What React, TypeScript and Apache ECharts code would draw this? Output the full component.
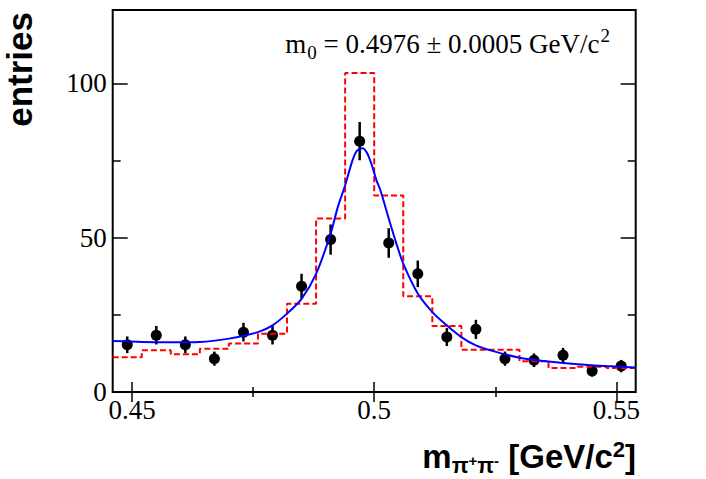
import React, { useEffect, useRef } from "react";
import * as echarts from "echarts";

// ---- data ----
const binCenters = [0.449, 0.455, 0.461, 0.467, 0.473, 0.479, 0.485, 0.491, 0.497, 0.503, 0.509, 0.515, 0.521, 0.527, 0.533, 0.539, 0.545, 0.551];
const dataCounts = [15.3, 18.4, 15.3, 10.8, 19.4, 18.4, 34.3, 49.4, 81.3, 48.3, 38.3, 17.8, 20.3, 10.8, 10.3, 11.9, 6.8, 8.4];
const dataErrors = [2.7, 3.0, 2.7, 2.3, 3.0, 3.0, 4.0, 4.9, 6.2, 4.8, 4.3, 2.9, 3.1, 2.3, 2.2, 2.4, 1.8, 2.0];
const mcCounts = [11.3, 13.5, 12.2, 14.0, 15.7, 18.9, 28.6, 56.2, 103.4, 63.7, 31.0, 21.4, 13.7, 13.7, 10.0, 7.8, 8.2, 7.8];
const binWidth = 0.006;
const fitX = [0.446, 0.452, 0.458, 0.464, 0.47, 0.476, 0.479, 0.482, 0.485, 0.488, 0.491, 0.4925, 0.494, 0.4955, 0.4965, 0.4976, 0.4985, 0.4994, 0.5005, 0.5013, 0.503, 0.5045, 0.506, 0.509, 0.512, 0.515, 0.518, 0.521, 0.524, 0.53, 0.536, 0.542, 0.548, 0.554];
const fitY = [16.5, 16.2, 16.1, 16.2, 17.3, 19.4, 21.6, 25.4, 30.2, 38.3, 51.3, 60.0, 67.0, 75.0, 78.3, 79.0, 77.5, 74.0, 68.5, 65.3, 56.2, 48.5, 41.6, 31.9, 25.9, 21.6, 17.8, 15.1, 13.5, 11.1, 9.9, 9.0, 8.4, 7.9];
const xTicks = [0.45, 0.5, 0.55];
const xMinorTicks = [0.475, 0.525];
const yTicks = [0, 50, 100];
const yMinorTicks = [25, 75];
const xRange = [0.446, 0.554];
const yRange = [0, 123.8];

const SERIF = "'Liberation Serif', 'Times New Roman', serif";
const SANS = "'Liberation Sans', Arial, Helvetica, sans-serif";

function tickAxis(kind: "x" | "y", position: string, values: number[], length: number, labels: boolean) {
  const range = kind === "x" ? xRange : yRange;
  return {
    type: "value",
    gridIndex: 0,
    position,
    min: range[0],
    max: range[1],
    axisLine: { show: false },
    splitLine: { show: false },
    axisTick: {
      show: true,
      inside: true,
      length,
      customValues: values,
      lineStyle: { color: "#000", width: 1.5 },
    },
    axisLabel: labels
      ? {
          show: true,
          customValues: values,
          margin: kind === "x" ? 4 : 6,
          fontFamily: SERIF,
          fontSize: 27,
          color: "#000",
        }
      : { show: false },
  };
}

export default function App() {
  const ref = useRef<HTMLDivElement>(null);

  useEffect(() => {
    if (!ref.current) return;
    const chart = echarts.init(ref.current, undefined, { renderer: "svg" });

    const histData: number[][] = binCenters.map((c, i) => [c - binWidth / 2, mcCounts[i]]);
    histData.push([binCenters[binCenters.length - 1] + binWidth / 2, mcCounts[mcCounts.length - 1]]);

    const option: any = {
      animation: false,
      backgroundColor: "#fff",
      grid: {
        show: true,
        left: 112.7,
        right: 70.3,
        top: 10,
        bottom: 87,
        borderColor: "#000",
        borderWidth: 2,
        backgroundColor: "transparent",
        containLabel: false,
        outerBoundsMode: "none",
      },
      xAxis: [
        tickAxis("x", "bottom", xTicks, 10, true),
        tickAxis("x", "bottom", xMinorTicks, 5, false),
        tickAxis("x", "top", xTicks, 10, false),
        tickAxis("x", "top", xMinorTicks, 5, false),
      ],
      yAxis: [
        tickAxis("y", "left", yTicks, 15, true),
        tickAxis("y", "left", yMinorTicks, 8, false),
        tickAxis("y", "right", yTicks, 15, false),
        tickAxis("y", "right", yMinorTicks, 8, false),
      ],
      series: [
        {
          name: "MC",
          type: "line",
          step: "end",
          xAxisIndex: 0,
          yAxisIndex: 0,
          data: histData,
          symbol: "none",
          lineStyle: { color: "#ff0000", width: 2, type: [6, 3] },
          silent: true,
        },
        {
          name: "fit",
          type: "line",
          xAxisIndex: 0,
          yAxisIndex: 0,
          data: fitX.map((x, i) => [x, fitY[i]]),
          smooth: 0.3,
          symbol: "none",
          lineStyle: { color: "#0000ff", width: 2 },
          silent: true,
        },
        {
          name: "errors",
          type: "custom",
          xAxisIndex: 0,
          yAxisIndex: 0,
          data: binCenters.map((x, i) => [x, dataCounts[i] - dataErrors[i], dataCounts[i] + dataErrors[i]]),
          encode: { x: 0, y: [1, 2] },
          renderItem: (_params: any, api: any) => {
            const x = api.value(0);
            const p1 = api.coord([x, api.value(1)]);
            const p2 = api.coord([x, api.value(2)]);
            return {
              type: "line",
              shape: { x1: p1[0], y1: p1[1], x2: p2[0], y2: p2[1] },
              style: { stroke: "#000", lineWidth: 2.5 },
            };
          },
          silent: true,
        },
        {
          name: "data",
          type: "scatter",
          xAxisIndex: 0,
          yAxisIndex: 0,
          data: binCenters.map((x, i) => [x, dataCounts[i]]),
          symbol: "circle",
          symbolSize: 11,
          itemStyle: { color: "#000", opacity: 1 },
          silent: true,
        },
      ],
      graphic: [
        {
          type: "text",
          x: 610,
          y: 44,
          style: {
            text: "{a|m}{s|0}{a| = 0.4976 ± 0.0005 GeV/c}{p|2}",
            align: "right",
            textAlign: "right",
            verticalAlign: "middle",
            textVerticalAlign: "middle",
            fill: "#000",
            rich: {
              a: { fontFamily: SERIF, fontSize: 27, color: "#000", fill: "#000" },
              s: { fontFamily: SERIF, fontSize: 19, color: "#000", fill: "#000", padding: [17, 0, 0, 1] },
              p: { fontFamily: SERIF, fontSize: 19, color: "#000", fill: "#000", padding: [0, 0, 17, 1] },
            },
          },
        },
        {
          type: "text",
          x: 636,
          y: 456,
          style: {
            text: "{b|m}{s|π}{ss|+}{s|π}{ss|-}{b|\u00a0[GeV/c}{p|2}{b|]}",
            align: "right",
            textAlign: "right",
            verticalAlign: "middle",
            textVerticalAlign: "middle",
            fill: "#000",
            rich: {
              b: { fontFamily: SANS, fontWeight: "bold", fontSize: 33, color: "#000", fill: "#000" },
              s: { fontFamily: SANS, fontWeight: "bold", fontSize: 22, color: "#000", fill: "#000", padding: [19, 0, 0, 0] },
              ss: { fontFamily: SANS, fontWeight: "bold", fontSize: 15, color: "#000", fill: "#000", padding: [8, 0, 0, 0] },
              p: { fontFamily: SANS, fontWeight: "bold", fontSize: 22, color: "#000", fill: "#000", padding: [0, 0, 13, 0] },
            },
          },
        },
        {
          type: "text",
          x: 19.5,
          y: 12,
          rotation: Math.PI / 2,
          style: {
            text: "entries",
            align: "right",
            textAlign: "right",
            verticalAlign: "middle",
            textVerticalAlign: "middle",
            fontFamily: SANS,
            fontWeight: "bold",
            fontSize: 35,
            fill: "#000",
          },
        },
      ],
    };

    chart.setOption(option);
    return () => chart.dispose();
  }, []);

  return (
    <div
      ref={ref}
      style={{ position: "fixed", left: 0, top: 0, width: 706, height: 479, background: "#fff" }}
    />
  );
}
